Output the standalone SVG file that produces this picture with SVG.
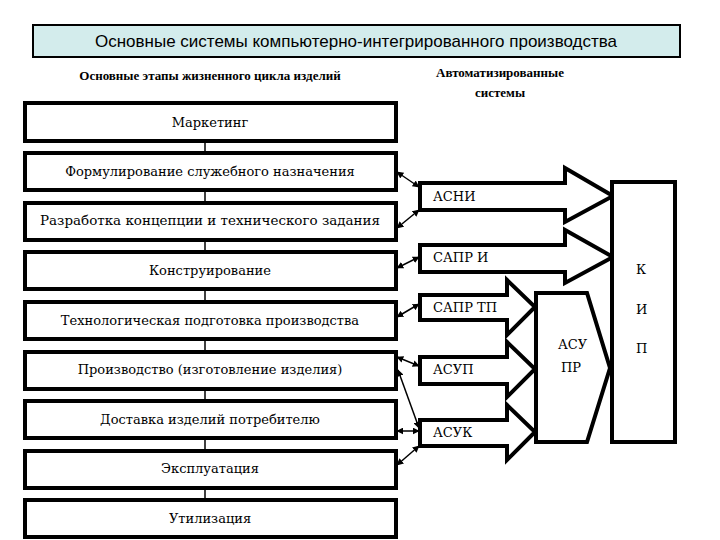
<svg xmlns="http://www.w3.org/2000/svg" width="720" height="540" viewBox="0 0 720 540">
<style>
.b{fill:#fff;stroke:#000;stroke-width:4}
.a{fill:#fff;stroke:#000;stroke-width:4;stroke-linejoin:miter}
.c{stroke:#000;stroke-width:1.5;fill:none;marker-start:url(#m);marker-end:url(#m)}
</style>
<defs><marker id="m" viewBox="0 0 10 10" refX="9" refY="5" markerWidth="7" markerHeight="7" orient="auto-start-reverse" markerUnits="userSpaceOnUse"><path d="M0,0 L10,5 L0,10 z"/></marker></defs>
<rect width="720" height="540" fill="#fff"/>
<g id="title"><rect x="33" y="25" width="647" height="32" fill="#d3ecec" stroke="#000" stroke-width="2"/><text x="356" y="47" font-family="Liberation Sans, Arial, sans-serif" font-size="17" text-anchor="middle">Основные системы компьютерно-интегрированного производства</text></g>
<g font-family="Liberation Serif, Times New Roman, DejaVu Serif, serif" text-anchor="middle">
<text x="210" y="80" font-weight="bold" font-size="13">Основные этапы жизненного цикла изделий</text>
<text x="500" y="77" font-weight="bold" font-size="13">Автоматизированные</text>
<text x="500" y="97" font-weight="bold" font-size="13">системы</text>
</g>
<g id="spine"><line x1="205" y1="142" x2="205" y2="500" stroke="#000" stroke-width="1.5"/></g>
<g font-family="DejaVu Serif, serif" font-size="13" text-anchor="middle">
<g id="n1"><rect class="b" x="25" y="103" width="371" height="38"/><text x="210" y="127">Маркетинг</text></g>
<g id="n2"><rect class="b" x="25" y="153" width="371" height="37"/><text x="210" y="176">Формулирование служебного назначения</text></g>
<g id="n3"><rect class="b" x="25" y="203" width="371" height="37"/><text x="210" y="225" textLength="340" lengthAdjust="spacingAndGlyphs">Разработка концепции и технического задания</text></g>
<g id="n4"><rect class="b" x="25" y="252" width="371" height="37"/><text x="210" y="275">Конструирование</text></g>
<g id="n5"><rect class="b" x="25" y="302" width="371" height="37"/><text x="210" y="325">Технологическая подготовка производства</text></g>
<g id="n6"><rect class="b" x="25" y="352" width="371" height="37"/><text x="210" y="374">Производство (изготовление изделия)</text></g>
<g id="n7"><rect class="b" x="25" y="401" width="371" height="37"/><text x="210" y="424">Доставка изделий потребителю</text></g>
<g id="n8"><rect class="b" x="25" y="451" width="371" height="37"/><text x="210" y="473">Эксплуатация</text></g>
<g id="n9"><rect class="b" x="25" y="500" width="371" height="37"/><text x="210" y="523">Утилизация</text></g>
</g>
<g font-family="DejaVu Serif, serif" font-size="13">
<g id="asni"><path class="a" d="M420,183 H565 V168 L613,196 L565,222 V210 H420 Z"/><text x="433" y="201">АСНИ</text></g>
<g id="sapri"><path class="a" d="M420,245 H565 V230 L613,257 L565,283 V272 H420 Z"/><text x="433" y="262">САПР И</text></g>
<g id="saprtp"><path class="a" d="M420,295 H507 V280 L535,307 L507,335 V320 H420 Z"/><text x="433" y="312">САПР ТП</text></g>
<g id="asup"><path class="a" d="M420,357 H507 V342 L535,369 L507,397 V384 H420 Z"/><text x="433" y="374">АСУП</text></g>
<g id="asuk"><path class="a" d="M420,420 H507 V405 L535,432 L507,460 V446 H420 Z"/><text x="433" y="437">АСУК</text></g>
<g id="asupr"><path class="a" d="M536,293 H587 L610,368 L587,442 H536 Z"/><text x="558" y="349">АСУ</text><text x="561" y="372">ПР</text></g>
<g id="kip"><rect class="b" x="612" y="182" width="63" height="260"/><text x="636" y="274">К</text><text x="636" y="314">И</text><text x="636" y="353">П</text></g>
</g>
<g id="connectors">
<line class="c" x1="397" y1="172" x2="419" y2="187"/>
<line class="c" x1="397" y1="228" x2="419" y2="210"/>
<line class="c" x1="397" y1="268" x2="419" y2="257"/>
<line class="c" x1="397" y1="317" x2="419" y2="304"/>
<line class="c" x1="397" y1="357" x2="419" y2="366"/>
<line class="c" x1="398" y1="370" x2="419" y2="428" stroke-width="1"/>
<line class="c" x1="397" y1="431" x2="419" y2="431"/>
<line class="c" x1="397" y1="465" x2="419" y2="446"/>
</g>
</svg>
